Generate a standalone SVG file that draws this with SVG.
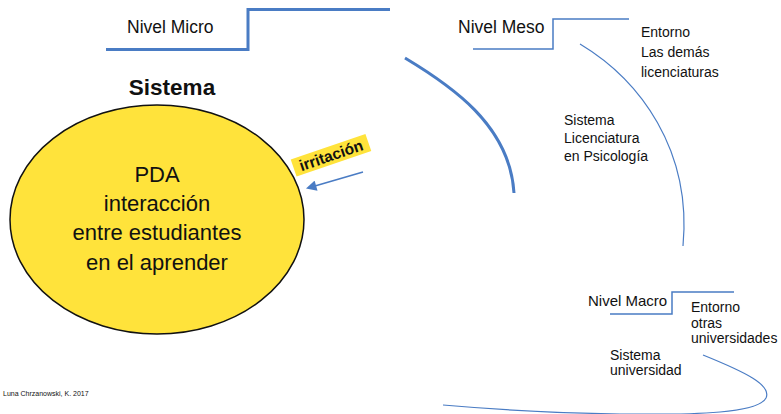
<svg xmlns="http://www.w3.org/2000/svg" width="781" height="414" viewBox="0 0 781 414">
<style>
text{font-family:"Liberation Sans",Arial,sans-serif;fill:#111}
.blue{fill:none;stroke:#4A7CC4}
.thick{stroke-width:3}
.thin{stroke-width:1.5}
.hair{stroke-width:1.2}
</style>
<defs>
<marker id="ah" viewBox="0 0 10 10" refX="8" refY="5" markerWidth="7.5" markerHeight="7" orient="auto" markerUnits="strokeWidth">
<path d="M0,0 L10,5 L0,10 z" fill="#4A7CC4"/>
</marker>
</defs>
<rect width="781" height="414" fill="#fff"/>
<g id="connectors">
<path class="blue thick" d="M106,49.5 H248 V9.5 H390"/>
<path class="blue thin" d="M473,49 H553 V19 H629"/>
<path class="blue thin" d="M610,314 H672 V292 H734"/>
<path class="blue thick" d="M405,58 C450,85 510,125 514,193"/>
<path class="blue hair" d="M580,44 C640,80 692,150 683,246"/>
<path class="blue hair" d="M703,355 C745,372 772,385 766,398 C758,413 700,415 620,414 C560,413 500,410 443,405"/>
<path class="blue thin" d="M363,172 L308,188" marker-end="url(#ah)"/>
</g>
<g id="micro">
<text x="127" y="33" font-size="17.5">Nivel Micro</text>
</g>
<g id="meso">
<text x="458" y="33" font-size="17.5">Nivel Meso</text>
</g>
<g id="sistema-titulo">
<text x="172" y="95" font-size="22.5" font-weight="bold" text-anchor="middle">Sistema</text>
</g>
<g id="pda">
<ellipse cx="157" cy="219.5" rx="147" ry="114.5" fill="#FFE33B" stroke="#111" stroke-width="1.5"/>
<text x="157" y="182" font-size="22" text-anchor="middle">PDA</text>
<text x="157" y="211" font-size="22" text-anchor="middle">interacción</text>
<text x="157" y="240" font-size="22" text-anchor="middle">entre estudiantes</text>
<text x="157" y="270" font-size="22" text-anchor="middle">en el aprender</text>
</g>
<g id="irritacion" transform="translate(331,155.25) rotate(-19)">
<rect x="-39.5" y="-9" width="79" height="18" fill="#FFE33B"/>
<text x="0" y="5.5" font-size="15.5" font-weight="bold" text-anchor="middle">irritación</text>
</g>
<g id="entorno-meso">
<text x="641" y="37" font-size="14">Entorno</text>
<text x="641" y="57" font-size="14">Las demás</text>
<text x="641" y="77" font-size="14">licenciaturas</text>
</g>
<g id="sistema-licenciatura">
<text x="564" y="125" font-size="14">Sistema</text>
<text x="564" y="143" font-size="14">Licenciatura</text>
<text x="564" y="161" font-size="14">en Psicología</text>
</g>
<g id="macro">
<text x="588" y="306" font-size="15">Nivel Macro</text>
</g>
<g id="entorno-macro">
<text x="691" y="312" font-size="14">Entorno</text>
<text x="691" y="327.5" font-size="14">otras</text>
<text x="691" y="343" font-size="14">universidades</text>
</g>
<g id="sistema-universidad">
<text x="610" y="360" font-size="14">Sistema</text>
<text x="610" y="375" font-size="14">universidad</text>
</g>
<g id="credito">
<text x="3" y="396" font-size="7">Luna Chrzanowski, K. 2017</text>
</g>
</svg>
